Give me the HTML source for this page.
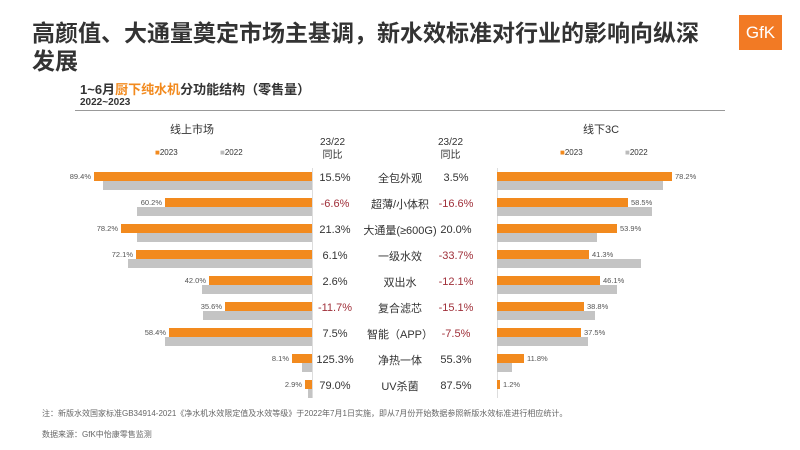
<!DOCTYPE html>
<html><head><meta charset="utf-8"><style>
body{margin:0;width:800px;height:450px;background:#fff;position:relative;overflow:hidden;font-family:"Liberation Sans","Noto Sans CJK SC",sans-serif;color:#333}
.a{position:absolute;white-space:nowrap}
.b{position:absolute;height:9px}
.o{background:#f28a1e}.g{background:#c4c4c4}
.v{position:absolute;font-size:7.5px;color:#555;white-space:nowrap}
.y{position:absolute;font-size:11px;width:60px;text-align:center;color:#333}
.r{color:#a0303a}
.c{position:absolute;font-size:11px;width:90px;text-align:center;left:355px}
</style></head><body>
<div class="a" style="left:32px;top:19px;font-size:23px;font-weight:bold;color:#333;line-height:28px">高颜值、大通量奠定市场主基调，新水效标准对行业的影响向纵深<br>发展</div>
<div class="a" style="left:739px;top:15px;width:43px;height:35px;background:#f27a24;color:#fff;font-size:17px;line-height:35px;text-align:center">GfK</div>
<div class="a" style="left:80px;top:79px;font-size:13px;font-weight:bold">1~6月<span style="color:#f28a1e">厨下纯水机</span>分功能结构（零售量）</div>
<div class="a" style="left:80px;top:97px;font-size:10px;font-weight:bold">2022~2023</div>
<div class="a" style="left:75px;top:110px;width:650px;height:1px;background:#999"></div>
<div class="a" style="left:170px;top:121px;font-size:11px">线上市场</div>
<div class="a" style="left:583px;top:121px;font-size:11px">线下3C</div>
<div class="a" style="left:155px;top:148px;font-size:8px"><span style="color:#f28a1e">■</span>2023</div>
<div class="a" style="left:220px;top:148px;font-size:8px"><span style="color:#bbb">■</span>2022</div>
<div class="a" style="left:560px;top:148px;font-size:8px"><span style="color:#f28a1e">■</span>2023</div>
<div class="a" style="left:625px;top:148px;font-size:8px"><span style="color:#bbb">■</span>2022</div>
<div class="a" style="left:320px;top:136px;font-size:10px;text-align:center;line-height:13px">23/22<br>同比</div>
<div class="a" style="left:438px;top:136px;font-size:10px;text-align:center;line-height:13px">23/22<br>同比</div>
<div class="a" style="left:312px;top:168px;width:1px;height:230px;background:#ddd"></div>
<div class="a" style="left:497px;top:168px;width:1px;height:230px;background:#ddd"></div>
<div id="c"></div>
<script>
var d=[["全包外观","89.4%",218,209,"15.5%",0,"3.5%",0,"78.2%",175,166],
["超薄/小体积","60.2%",147,175,"-6.6%",1,"-16.6%",1,"58.5%",131,155],
["大通量(≥600G)","78.2%",191,175,"21.3%",0,"20.0%",0,"53.9%",120,100],
["一级水效","72.1%",176,184,"6.1%",0,"-33.7%",1,"41.3%",92,144],
["双出水","42.0%",103,110,"2.6%",0,"-12.1%",1,"46.1%",103,120],
["复合滤芯","35.6%",87,109,"-11.7%",1,"-15.1%",1,"38.8%",87,98],
["智能（APP）","58.4%",143,147,"7.5%",0,"-7.5%",1,"37.5%",84,91],
["净热一体","8.1%",20,10,"125.3%",0,"55.3%",0,"11.8%",27,15],
["UV杀菌","2.9%",7,4,"79.0%",0,"87.5%",0,"1.2%",3,0]];
var h="";
d.forEach(function(r,i){var t=172+i*26;
h+='<div class="b o" style="left:'+(312-r[2])+'px;top:'+t+'px;width:'+r[2]+'px"></div>';
h+='<div class="b g" style="left:'+(312-r[3])+'px;top:'+(t+9)+'px;width:'+r[3]+'px"></div>';
h+='<div class="v" style="right:'+(800-312+r[2]+3)+'px;top:'+(t)+'px">'+r[1]+'</div>';
h+='<div class="y'+(r[5]?' r':'')+'" style="left:305px;top:'+(t)+'px">'+r[4]+'</div>';
h+='<div class="c" style="top:'+(t-2)+'px">'+r[0]+'</div>';
h+='<div class="y'+(r[7]?' r':'')+'" style="left:426px;top:'+(t)+'px">'+r[6]+'</div>';
h+='<div class="b o" style="left:497px;top:'+t+'px;width:'+r[9]+'px"></div>';
h+='<div class="b g" style="left:497px;top:'+(t+9)+'px;width:'+r[10]+'px"></div>';
h+='<div class="v" style="left:'+(497+r[9]+3)+'px;top:'+t+'px">'+r[8]+'</div>';});
document.getElementById("c").innerHTML=h;
</script>
<div class="a" style="left:42px;top:408px;font-size:8px;color:#666">注：新版水效国家标准GB34914-2021《净水机水效限定值及水效等级》于2022年7月1日实施，即从7月份开始数据参照新版水效标准进行相应统计。</div>
<div class="a" style="left:42px;top:429px;font-size:8px;color:#666">数据来源：GfK中怡康零售监测</div>
</body></html>
